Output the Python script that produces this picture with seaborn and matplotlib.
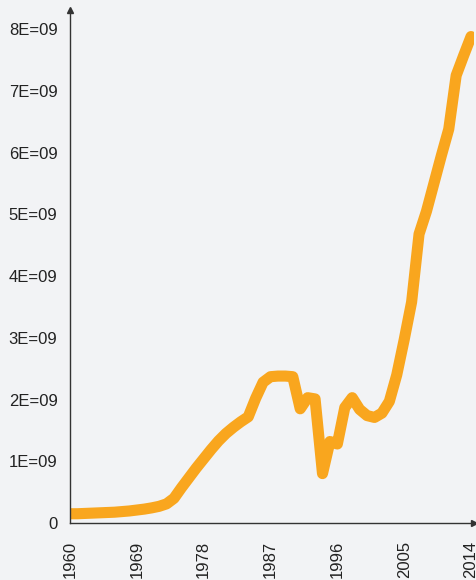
import matplotlib
matplotlib.use("Agg")
import matplotlib.pyplot as plt
import seaborn as sns
import pandas as pd

years = list(range(1960, 2015))
values_e9 = [
    0.15, 0.15, 0.155, 0.16, 0.165, 0.17, 0.175, 0.185, 0.195, 0.21,
    0.225, 0.245, 0.27, 0.31, 0.40, 0.57, 0.73, 0.89, 1.04, 1.19,
    1.33, 1.45, 1.55, 1.64, 1.72, 2.02, 2.28, 2.37, 2.38, 2.38,
    2.37, 1.85, 2.03, 2.01, 0.80, 1.32, 1.28, 1.87, 2.03, 1.84,
    1.74, 1.71, 1.78, 1.97, 2.40, 2.97, 3.58, 4.68, 5.05, 5.50,
    5.95, 6.38, 7.25, 7.57, 7.88,
]
y_ticks = [0, 1e9, 2e9, 3e9, 4e9, 5e9, 6e9, 7e9, 8e9]
y_tick_labels = ["0", "1E=09", "2E=09", "3E=09", "4E=09", "5E=09", "6E=09", "7E=09", "8E=09"]
x_ticks = [1960, 1969, 1978, 1987, 1996, 2005, 2014]
x_tick_labels = ["1960", "1969", "1978", "1987", "1996", "2005", "2014"]

df = pd.DataFrame({"year": years, "value": [v * 1e9 for v in values_e9]})

sns.set_theme(style="white")
plt.rcParams["font.family"] = ["Liberation Sans", "DejaVu Sans"]

bg = "#F2F3F5"
fig = plt.figure(figsize=(4.76, 5.80), dpi=100, facecolor=bg)
ax = fig.add_axes([70 / 476, 57 / 580, 404 / 476, 513 / 580])
ax.set_facecolor(bg)

sns.lineplot(data=df, x="year", y="value", ax=ax, color="#F9A61E",
             linewidth=8, solid_capstyle="round", solid_joinstyle="round")

ax.set_xlim(1960, 2014.4)
ax.set_ylim(0, 8.31e9)
ax.set_xticks(x_ticks)
ax.set_xticklabels(x_tick_labels, rotation=90)
ax.set_yticks(y_ticks)
ax.set_yticklabels(y_tick_labels)
ax.set_xlabel("")
ax.set_ylabel("")
ax.tick_params(axis="both", length=0, labelsize=12, colors="#222222")
ax.tick_params(axis="x", pad=13)
ax.tick_params(axis="y", pad=9)

for side in ["top", "right"]:
    ax.spines[side].set_visible(False)
for side in ["left", "bottom"]:
    ax.spines[side].set_color("#333333")
    ax.spines[side].set_linewidth(1.0)

ax.plot([1], [0], marker=">", markersize=4, color="#333333",
        transform=ax.transAxes, clip_on=False)
ax.plot([0], [1], marker="^", markersize=4, color="#333333",
        transform=ax.transAxes, clip_on=False)

fig.savefig("out.png", dpi=100, facecolor=bg)
